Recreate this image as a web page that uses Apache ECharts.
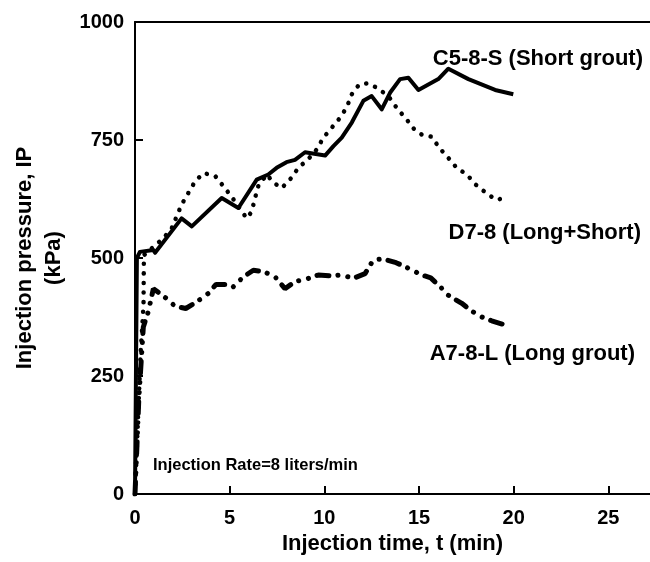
<!DOCTYPE html>
<html>
<head>
<meta charset="utf-8">
<script src="https://cdn.jsdelivr.net/npm/echarts@6/dist/echarts.min.js"></script>
<style>
  html, body { margin: 0; padding: 0; background: #fff; }
  #chart { width: 650px; height: 562px; }
</style>
</head>
<body>
<div id="chart"></div>
<script>
// Injection time (min) and pressure (kPa)
const shortTime = [0, 0.05, 0.1, 0.26, 0.97, 1.06, 2.46, 3.0, 4.58, 5.46, 6.43, 7.04, 7.48, 8.0, 8.45, 8.98, 10.04, 10.48, 10.92, 11.45, 12.06, 12.5, 13.03, 13.47, 14.0, 14.44, 14.97, 16.02, 16.55, 17.61, 19.02, 19.98];
const shortIP   = [0, 250, 500, 513, 517, 511, 584, 567, 627, 606, 666, 677, 691, 703, 708, 724, 717, 737, 755, 787, 833, 843, 815, 850, 879, 882, 856, 879, 901, 879, 856, 847];

const mixTime = [0, 0.15, 0.3, 0.45, 0.47, 1.5, 1.94, 2.46, 2.82, 3.17, 3.61, 4.23, 4.67, 5.1, 5.9, 6.16, 6.34, 6.51, 6.96, 7.3, 7.75, 8.22, 8.63, 9.16, 9.6, 9.95, 10.39, 10.83, 11.18, 11.45, 11.85, 12.33, 12.94, 13.47, 13.86, 14.32, 14.76, 15.2, 15.67, 16.08, 16.55, 16.99, 17.52, 18.01, 18.54, 19.07, 19.72];
const mixIP   = [0, 150, 300, 400, 506, 542, 563, 613, 638, 662, 680, 674, 652, 630, 584, 598, 627, 652, 677, 660, 648, 668, 691, 710, 730, 755, 776, 797, 819, 847, 868, 870, 857, 838, 816, 795, 772, 760, 757, 733, 712, 691, 677, 655, 638, 623, 629];

const longTime = [0, 0.2, 0.44, 0.7, 0.97, 1.67, 2.11, 2.68, 3.26, 3.87, 4.28, 4.75, 5.19, 5.72, 6.25, 6.81, 7.4, 7.92, 8.45, 9.02, 9.68, 10.3, 10.92, 11.53, 12.15, 12.59, 13.12, 13.79, 14.35, 15.15, 15.62, 16.15, 16.55, 17.26, 17.73, 18.31, 18.84, 19.63];
const longIP   = [0, 200, 354, 386, 435, 414, 398, 393, 407, 425, 444, 444, 439, 460, 474, 471, 460, 435, 450, 455, 464, 462, 464, 457, 467, 496, 498, 490, 480, 464, 458, 438, 421, 404, 389, 375, 367, 357];

const yTicks = [0, 250, 500, 750, 1000];

const chart = echarts.init(document.getElementById('chart'));
const font = 'Liberation Sans, Arial, sans-serif';

function pairs(xs, ys) {
    return xs.map((x, i) => [x, ys[i]]);
}

const option = {
    animation: false,
    grid: { left: 135, top: 22, right: 0, bottom: 68 },
    xAxis: [{
        type: 'value', min: 0, max: 27.2, interval: 5,
        name: 'Injection time, t (min)', nameLocation: 'middle', nameGap: 36,
        nameTextStyle: { fontFamily: font, fontWeight: 'bold', fontSize: 22, color: '#000' },
        axisLine: { onZero: false, lineStyle: { color: '#000', width: 2 } },
        axisTick: { inside: true, length: 8, lineStyle: { color: '#000', width: 2 } },
        axisLabel: { fontFamily: font, fontWeight: 'bold', fontSize: 20, color: '#000', margin: 14, showMaxLabel: false },
        splitLine: { show: false }
    }, {
        type: 'value', position: 'top', min: 0, max: 27.2,
        axisLine: { show: true, onZero: false, lineStyle: { color: '#000', width: 2 } },
        axisTick: { show: false }, axisLabel: { show: false }, splitLine: { show: false }
    }],
    yAxis: {
        type: 'value', min: yTicks[0], max: yTicks[yTicks.length - 1], interval: 250,
        name: 'Injection pressure, IP\n(kPa)', nameLocation: 'middle', nameGap: 66,
        nameTextStyle: { fontFamily: font, fontWeight: 'bold', fontSize: 22, color: '#000', lineHeight: 29 },
        axisLine: { show: true, onZero: false, lineStyle: { color: '#000', width: 2 } },
        axisTick: { inside: true, length: 8, lineStyle: { color: '#000', width: 2 } },
        axisLabel: { fontFamily: font, fontWeight: 'bold', fontSize: 20, color: '#000', margin: 11, formatter: v => String(v) },
        splitLine: { show: false }
    },
    series: [{
        name: 'C5-8-S (Short grout)', type: 'line', showSymbol: false,
        data: pairs(shortTime, shortIP),
        lineStyle: { color: '#000', width: 4, join: 'round' }
    }, {
        name: 'D7-8 (Long+Short)', type: 'line', showSymbol: false,
        data: pairs(mixTime, mixIP),
        lineStyle: { color: '#000', width: 4.5, type: [0.1, 9.5], cap: 'round' }
    }, {
        name: 'A7-8-L (Long grout)', type: 'line', showSymbol: false,
        data: pairs(longTime, longIP),
        lineStyle: { color: '#000', width: 5, type: [12, 9, 0.1, 10, 0.1, 9], cap: 'round' }
    }],
    graphic: [
        { type: 'text', right: 7, top: 48, style: { text: 'C5-8-S (Short grout)', font: 'bold 22px ' + font, fill: '#000' } },
        { type: 'text', right: 9, top: 222, style: { text: 'D7-8 (Long+Short)', font: 'bold 22px ' + font, fill: '#000' } },
        { type: 'text', right: 15, top: 343, style: { text: 'A7-8-L (Long grout)', font: 'bold 22px ' + font, fill: '#000' } },
        { type: 'text', left: 153, top: 457, style: { text: 'Injection Rate=8 liters/min', font: 'bold 16.5px ' + font, fill: '#000' } }
    ]
};
chart.setOption(option);
</script>
</body>
</html>
